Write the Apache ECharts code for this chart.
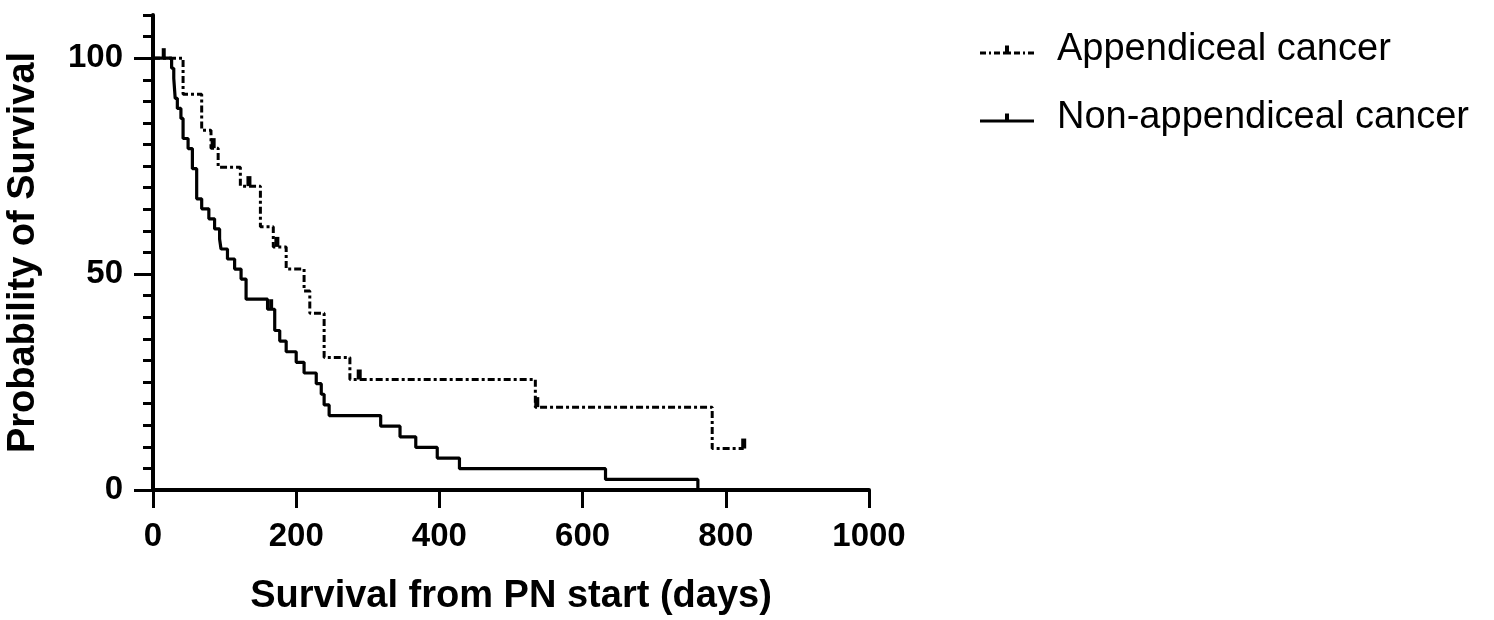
<!DOCTYPE html>
<html>
<head>
<meta charset="utf-8">
<script src="https://cdn.jsdelivr.net/npm/echarts@6/dist/echarts.min.js"></script>
<style>
  html, body { margin: 0; padding: 0; background: #fff; }
  #chart { width: 1494px; height: 620px; }
</style>
</head>
<body>
<div id="chart"></div>
<script>
// ---- Data ----
const seriesNames = ['Appendiceal cancer', 'Non-appendiceal cancer'];

// Appendiceal cancer: Kaplan–Meier step points (day, survival % after the event)
const appDays = [0, 42, 68, 81, 91, 122, 150, 168, 186, 211, 219, 239, 275, 534, 781, 825];
const appSurv = [100, 91.67, 83.33, 79.17, 74.77, 70.37, 60.99, 56.30, 51.18, 46.06, 40.94, 30.71, 25.59, 19.19, 9.60, 9.60];
const appCensorDays = [84, 134, 173, 288, 536, 825];
const appCensorSurv = [79.17, 70.37, 56.30, 25.59, 19.19, 9.60];

// Non-appendiceal cancer
const nonDays = [0, 26, 29, 31, 34, 39, 42, 49, 55, 61, 68, 78, 86, 93, 95, 104, 114, 123, 130, 160, 170, 177, 186, 200, 211, 228, 235, 239, 246, 318, 345, 367, 397, 428, 632, 761];
const nonSurv = [100, 97.67, 95.35, 90.70, 88.37, 86.05, 81.40, 79.07, 74.42, 67.44, 65.12, 62.79, 60.47, 58.14, 55.81, 53.49, 51.16, 48.84, 44.19, 41.86, 36.94, 34.48, 32.02, 29.56, 27.09, 24.63, 22.17, 19.71, 17.24, 14.78, 12.32, 9.85, 7.39, 4.93, 2.46, 0];
const nonCensorDays = [15, 165];
const nonCensorSurv = [100, 41.86];

const xTicks = [0, 200, 400, 600, 800, 1000];
const yLabelValues = [0, 50, 100];

// ---- Build ----
const FONT = '"Liberation Sans", Arial, Helvetica, sans-serif';
const zip = (a, b) => a.map((v, i) => [v, b[i]]);

const solidIcon = 'path://M0,6 L54,6 L54,9 L0,9 Z M25,0 L29,0 L29,6 L25,6 Z';
const dashIcon = 'path://M0,6 L6,6 L6,9 L0,9 Z M9,6 L11,6 L11,9 L9,9 Z M14,6 L20,6 L20,9 L14,9 Z ' +
  'M23,6 L31,6 L31,9 L23,9 Z M25,0 L29,0 L29,6 L25,6 Z M34,6 L40,6 L40,9 L34,9 Z ' +
  'M43,6 L45,6 L45,9 L43,9 Z M48,6 L54,6 L54,9 L48,9 Z';

const chart = echarts.init(document.getElementById('chart'), null, { renderer: 'canvas' });

const option = {
  animation: false,
  backgroundColor: '#ffffff',
  textStyle: { fontFamily: FONT },
  grid: { left: 153, right: 625, top: 15, bottom: 130, containLabel: false, outerBoundsMode: 'none' },
  legend: {
    orient: 'vertical',
    left: 975,
    top: 24,
    itemWidth: 54,
    itemHeight: 9,
    itemGap: 26,
    selectedMode: false,
    textStyle: { fontFamily: FONT, fontSize: 38, color: '#000', lineHeight: 42, padding: [0, 0, 0, 18] },
    data: [
      { name: seriesNames[0], icon: dashIcon },
      { name: seriesNames[1], icon: solidIcon }
    ]
  },
  xAxis: {
    type: 'value',
    min: xTicks[0],
    max: xTicks[xTicks.length - 1],
    interval: xTicks[1] - xTicks[0],
    name: 'Survival from PN start (days)',
    nameLocation: 'middle',
    nameGap: 88,
    nameTextStyle: { fontFamily: FONT, fontSize: 38, fontWeight: 'bold', color: '#000' },
    axisLine: { show: true, onZero: false, lineStyle: { color: '#000', width: 4 } },
    axisTick: { show: true, length: 18, lineStyle: { color: '#000', width: 3 } },
    axisLabel: {
      fontFamily: FONT, fontSize: 33, fontWeight: 'bold', color: '#000', margin: 30,
      formatter: (v) => String(v)
    },
    splitLine: { show: false }
  },
  yAxis: [
    {
      type: 'value',
      position: 'left',
      min: 0,
      max: 110,
      interval: 5,
      name: 'Probability of Survival',
      nameLocation: 'middle',
      nameGap: 110,
      nameTextStyle: { fontFamily: FONT, fontSize: 38, fontWeight: 'bold', color: '#000' },
      axisLine: { show: true, onZero: false, lineStyle: { color: '#000', width: 4 } },
      axisTick: { show: true, length: 10, lineStyle: { color: '#000', width: 3 } },
      axisLabel: {
        fontFamily: FONT, fontSize: 33, fontWeight: 'bold', color: '#000', margin: 30,
        customValues: yLabelValues, formatter: (v) => String(v)
      },
      splitLine: { show: false }
    },
    {
      type: 'value',
      position: 'left',
      offset: 0,
      min: 0,
      max: 110,
      interval: 5,
      axisLine: { show: false },
      axisTick: { show: true, length: 19, customValues: yLabelValues, lineStyle: { color: '#000', width: 3 } },
      axisLabel: { show: false },
      splitLine: { show: false }
    }
  ],
  series: [
    {
      name: seriesNames[0],
      type: 'line',
      step: 'end',
      data: zip(appDays, appSurv),
      showSymbol: false,
      symbol: 'none',
      itemStyle: { color: '#000' },
      lineStyle: { color: '#000', width: 3, type: [7, 3, 3, 3] },
      z: 3
    },
    {
      name: seriesNames[1],
      type: 'line',
      step: 'end',
      data: zip(nonDays, nonSurv),
      showSymbol: false,
      symbol: 'none',
      itemStyle: { color: '#000' },
      lineStyle: { color: '#000', width: 3.2 },
      z: 3
    },
    {
      name: 'Appendiceal censored',
      type: 'scatter',
      data: zip(appCensorDays, appCensorSurv),
      symbol: 'rect',
      symbolSize: [5, 10],
      symbolOffset: [0, '-50%'],
      itemStyle: { color: '#000', opacity: 1 },
      z: 4
    },
    {
      name: 'Non-appendiceal censored',
      type: 'scatter',
      data: zip(nonCensorDays, nonCensorSurv),
      symbol: 'rect',
      symbolSize: [4, 10],
      symbolOffset: [0, '-50%'],
      itemStyle: { color: '#000', opacity: 1 },
      z: 4
    }
  ]
};

chart.setOption(option);
</script>
</body>
</html>
